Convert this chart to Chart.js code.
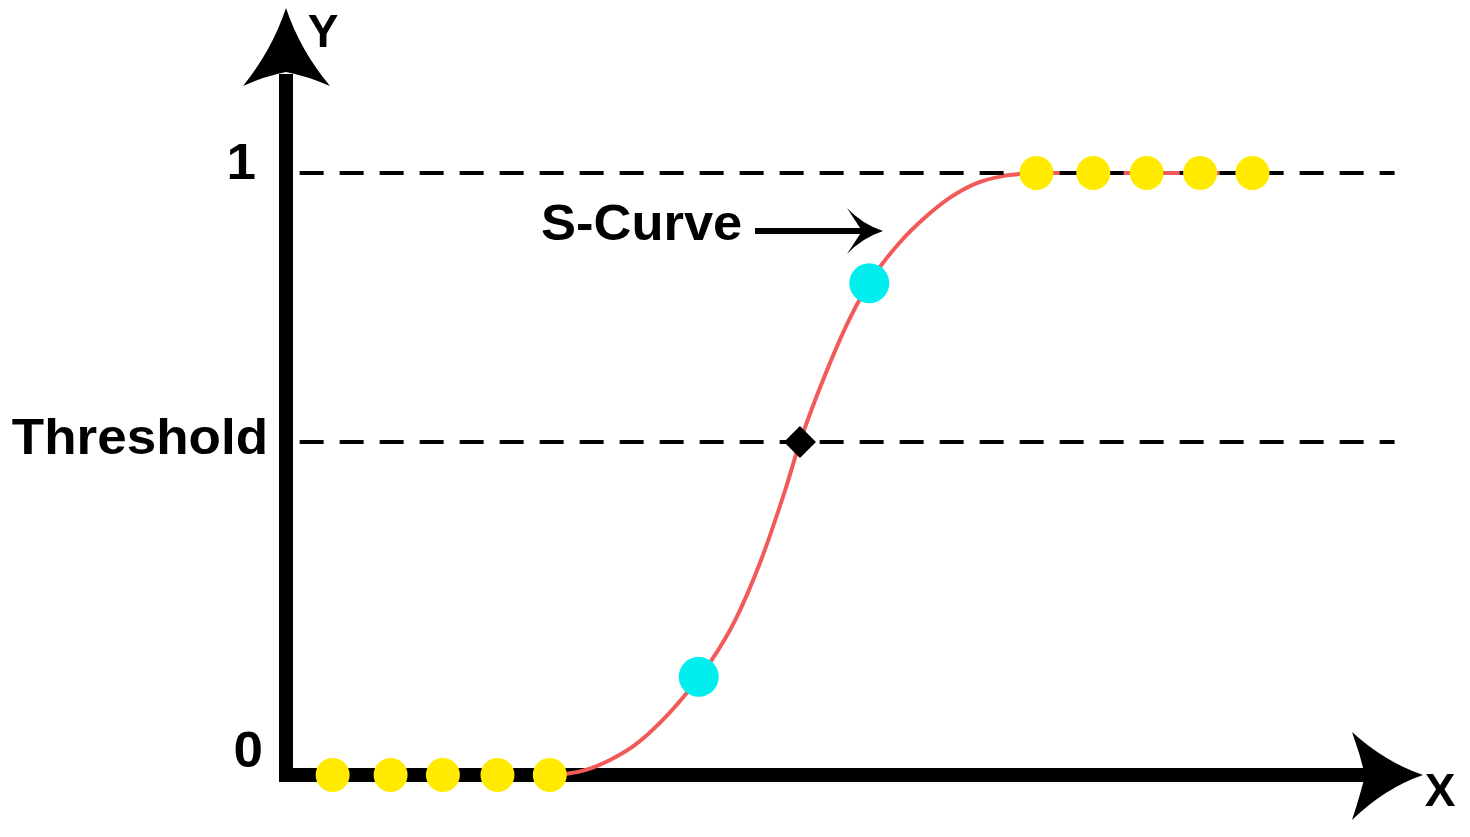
<!DOCTYPE html>
<html>
<head>
<meta charset="utf-8">
<script src="https://cdn.jsdelivr.net/npm/chart.js@4/dist/chart.umd.min.js"></script>
<style>
  body { margin: 0; background: #fff; }
  canvas { display: block; }
</style>
</head>
<body>
<canvas id="grafico" width="1470" height="837"></canvas>
<script>
// curva S
const curvaX = [24.1, 26.3, 28.5, 30.7, 32.9, 35.1, 37.3, 39.5, 41.7, 43.9, 45.2, 47.4, 49.6, 51.8, 54.0, 56.2, 58.4, 60.6, 62.8, 65.0, 66.0, 85.0];
const curvaY = [0, 0.008, 0.025, 0.050, 0.087, 0.133, 0.187, 0.257, 0.353, 0.473, 0.553, 0.664, 0.759, 0.832, 0.885, 0.926, 0.959, 0.982, 0.994, 0.999, 1, 1];

const amarelosBaixoX = [4.1, 9.2, 13.8, 18.6, 23.2];
const amarelosBaixoY = [0, 0, 0, 0, 0];
const amarelosCimaX = [66.0, 71.0, 75.7, 80.4, 85.0];
const amarelosCimaY = [1, 1, 1, 1, 1];
const cianoX = [36.3, 51.3];
const cianoY = [0.163, 0.817];

const limiar = 0.553;
const limiarX = 45.2;
const linhaRefX = [1.2, 97.5];

const rotulosY = [
  { valor: 0, texto: "0" },
  { valor: limiar, texto: "Threshold" },
  { valor: 1, texto: "1" }
];

const pontos = (xs, ys) => xs.map((x, i) => ({ x, y: ys[i] }));

// texto um pouco mais largo, como no original
function texto(ctx, t, x, y, alinhar, sx) {
  ctx.save();
  ctx.translate(x, y);
  ctx.scale(sx, 1);
  ctx.textAlign = alinhar;
  ctx.fillText(t, 0, 0);
  ctx.restore();
}

const eixos = {
  id: "eixos",
  beforeDatasetsDraw(chart) {
    const { ctx, chartArea: a } = chart;
    ctx.save();
    ctx.fillStyle = "#000";
    // eixo Y
    ctx.fillRect(a.left - 7, 74, 14, a.bottom + 7 - 74);
    // eixo X
    ctx.fillRect(a.left - 7, a.bottom - 7, 1368 - a.left + 7, 14);
    // ponta Y
    const tx = a.left;
    ctx.beginPath();
    ctx.moveTo(tx, 8);
    ctx.quadraticCurveTo(tx - 14, 50, tx - 43, 86);
    ctx.quadraticCurveTo(tx - 21, 76, tx, 72);
    ctx.quadraticCurveTo(tx + 21, 76, tx + 44, 86);
    ctx.quadraticCurveTo(tx + 14, 50, tx, 8);
    ctx.fill();
    // ponta X
    const ty = a.bottom;
    ctx.beginPath();
    ctx.moveTo(1423, ty);
    ctx.quadraticCurveTo(1385, ty - 13, 1352, ty - 43);
    ctx.quadraticCurveTo(1360, ty - 21, 1365, ty);
    ctx.quadraticCurveTo(1360, ty + 21, 1352, ty + 45);
    ctx.quadraticCurveTo(1385, ty + 13, 1423, ty);
    ctx.fill();
    ctx.restore();
  },
  afterDatasetsDraw(chart) {
    const { ctx, scales } = chart;
    const y = scales.y;
    ctx.save();
    ctx.fillStyle = "#000";
    ctx.textBaseline = "middle";
    ctx.font = "bold 50px 'Liberation Sans', Arial, sans-serif";
    const ajuste = { "0": [263, -22], "1": [256, -8], "Threshold": [268, -2] };
    rotulosY.forEach(r => {
      const [px, dy] = ajuste[r.texto];
      texto(ctx, r.texto, px, y.getPixelForValue(r.valor) + dy, "right", 1.06);
    });
    ctx.font = "bold 46px 'Liberation Sans', Arial, sans-serif";
    texto(ctx, "Y", 323, 34, "center", 1);
    texto(ctx, "X", 1440, 793, "center", 1);
    // S-Curve
    ctx.font = "bold 50px 'Liberation Sans', Arial, sans-serif";
    texto(ctx, "S-Curve", 541, 226, "left", 1.05);
    ctx.fillRect(755, 228, 112, 6);
    ctx.beginPath();
    ctx.moveTo(883, 231);
    ctx.quadraticCurveTo(862, 224, 847, 208);
    ctx.lineTo(862, 231);
    ctx.lineTo(847, 254);
    ctx.quadraticCurveTo(862, 238, 883, 231);
    ctx.fill();
    ctx.restore();
  }
};

new Chart(document.getElementById("grafico"), {
  type: "scatter",
  data: {
    datasets: [
      {
        label: "Limiar",
        data: [{ x: limiarX, y: limiar }],
        pointStyle: "rectRot",
        pointRadius: 16,
        backgroundColor: "#000",
        borderWidth: 0,
        clip: false,
        order: 1
      },
      {
        label: "Ciano",
        data: pontos(cianoX, cianoY),
        pointRadius: 20,
        backgroundColor: "#00eeee",
        borderWidth: 0,
        clip: false,
        order: 1
      },
      {
        label: "Amarelos baixo",
        data: pontos(amarelosBaixoX, amarelosBaixoY),
        pointRadius: 17,
        backgroundColor: "#ffea00",
        borderWidth: 0,
        clip: false,
        order: 1
      },
      {
        label: "Amarelos cima",
        data: pontos(amarelosCimaX, amarelosCimaY),
        pointRadius: 17,
        backgroundColor: "#ffea00",
        borderWidth: 0,
        clip: false,
        order: 1
      },
      {
        label: "Linha 1",
        data: pontos(linhaRefX, [1, 1]),
        showLine: true,
        borderColor: "#000",
        borderWidth: 4,
        borderDash: [24, 16],
        pointRadius: 0,
        clip: false,
        order: 2
      },
      {
        label: "Linha limiar",
        data: pontos(linhaRefX, [limiar, limiar]),
        showLine: true,
        borderColor: "#000",
        borderWidth: 4,
        borderDash: [24, 16],
        pointRadius: 0,
        clip: false,
        order: 2
      },
      {
        label: "S-Curve",
        data: pontos(curvaX, curvaY),
        showLine: true,
        borderColor: "#f25a5a",
        borderWidth: 4,
        cubicInterpolationMode: "monotone",
        pointRadius: 0,
        clip: false,
        order: 3
      }
    ]
  },
  options: {
    responsive: false,
    animation: false,
    layout: { padding: { left: 286, right: 47, top: 22.5, bottom: 62 } },
    scales: {
      x: { display: false, min: 0, max: 100 },
      y: { display: false, min: 0, max: 1.25 }
    },
    plugins: { legend: { display: false }, tooltip: { enabled: false } }
  },
  plugins: [eixos]
});
</script>
</body>
</html>
